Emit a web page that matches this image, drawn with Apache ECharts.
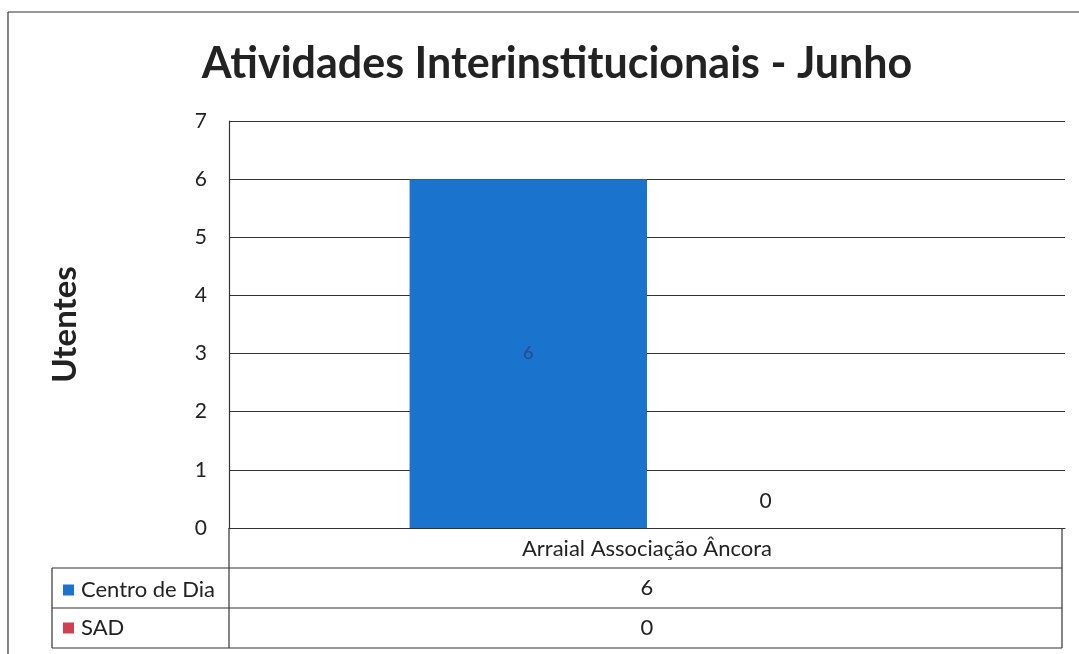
<!doctype html>
<html>
<head>
<meta charset="UTF-8">
<title>Atividades Interinstitucionais - Junho</title>
<script src="https://cdn.jsdelivr.net/npm/echarts@6/dist/echarts.min.js"></script>
<style>
  html, body { margin: 0; padding: 0; background: #fff; }
  #chart { width: 1079px; height: 654px; }
</style>
</head>
<body>
<div id="chart"></div>
<script>
  // dados
  var categories = ['Arraial Associação Âncora'];
  var seriesNames = ['Centro de Dia', 'SAD'];
  var centroDia = [6];
  var sad = [0];
  var yTicks = [0, 1, 2, 3, 4, 5, 6, 7];
  var colors = ['#1a73cc', '#d0414f'];

  var FONT = 'Lato';
  var gridL = 229, gridR = 1065, gridT = 121, gridB = 528;
  var rowH = 40, tableL = 52;

  var chart = echarts.init(document.getElementById('chart'));

  // linhas da tabela de dados + moldura
  var lines = [];
  function ln(x1, y1, x2, y2) {
    lines.push({
      type: 'line', silent: true,
      shape: { x1: x1, y1: y1, x2: x2, y2: y2 },
      style: { stroke: '#333', lineWidth: 1.2 }
    });
  }
  ln(8, 12, 1079, 12);
  ln(8, 12, 8, 654);
  ln(tableL, gridB + rowH, gridR - 3, gridB + rowH);
  ln(tableL, gridB + rowH * 2, gridR - 3, gridB + rowH * 2);
  ln(tableL, gridB + rowH * 3, gridR - 3, gridB + rowH * 3);
  ln(tableL, gridB + rowH, tableL, gridB + rowH * 3);
  ln(gridL, gridB, gridL, gridB + rowH * 3);
  ln(gridR - 3, gridB, gridR - 3, gridB + rowH * 3);

  var cx = (gridL + gridR) / 2;
  [centroDia, sad].forEach(function(arr, i) {
    lines.push({
      type: 'text', silent: true,
      x: cx, y: gridB + rowH * (i + 1) + rowH / 2,
      style: {
        text: String(arr[0]), fill: '#222', font: '22px ' + FONT,
        align: 'center', verticalAlign: 'middle'
      }
    });
  });

  option = {
    backgroundColor: '#fff',
    color: colors,
    title: {
      text: 'Atividades Interinstitucionais - Junho',
      left: 552,
      textAlign: 'center',
      top: 38,
      textStyle: { fontFamily: FONT, fontSize: 43, fontWeight: 'bold', color: '#222' }
    },
    legend: {
      orient: 'vertical',
      left: 58,
      top: gridB + rowH + 6,
      itemGap: rowH - 24,
      itemWidth: 11,
      itemHeight: 11,
      icon: 'rect',
      data: seriesNames,
      textStyle: { fontFamily: FONT, fontSize: 22, color: '#222', padding: [0, 0, 0, 2] }
    },
    grid: {
      left: gridL, right: 1079 - gridR, top: gridT, bottom: 654 - gridB,
      containLabel: false
    },
    xAxis: {
      type: 'category',
      data: categories,
      axisLine: { show: true, lineStyle: { color: '#333', width: 1.2 } },
      axisTick: { show: false },
      axisLabel: { fontFamily: FONT, fontSize: 22, color: '#222', margin: 10 }
    },
    yAxis: {
      type: 'value',
      min: yTicks[0],
      max: yTicks[yTicks.length - 1],
      interval: 1,
      name: 'Utentes',
      nameLocation: 'middle',
      nameRotate: 90,
      nameGap: 147,
      nameTextStyle: { fontFamily: FONT, fontSize: 33, fontWeight: 'bold', color: '#222' },
      axisLine: { show: true, lineStyle: { color: '#333', width: 1.2 } },
      axisTick: { show: false },
      axisLabel: { fontFamily: FONT, fontSize: 21, color: '#222', margin: 22 },
      splitLine: { lineStyle: { color: '#333', width: 1.2 } }
    },
    series: [
      {
        name: seriesNames[0], type: 'bar', data: centroDia,
        barWidth: '28.4%', barGap: '0%',
        label: { show: true, position: 'inside', fontFamily: FONT, fontSize: 18, color: '#2a4a8c' }
      },
      {
        name: seriesNames[1], type: 'bar', data: sad,
        barWidth: '28.4%',
        label: { show: true, position: 'top', distance: 16, fontFamily: FONT, fontSize: 21, color: '#222' }
      }
    ],
    graphic: lines
  };
  chart.setOption(option);
</script>
</body>
</html>
